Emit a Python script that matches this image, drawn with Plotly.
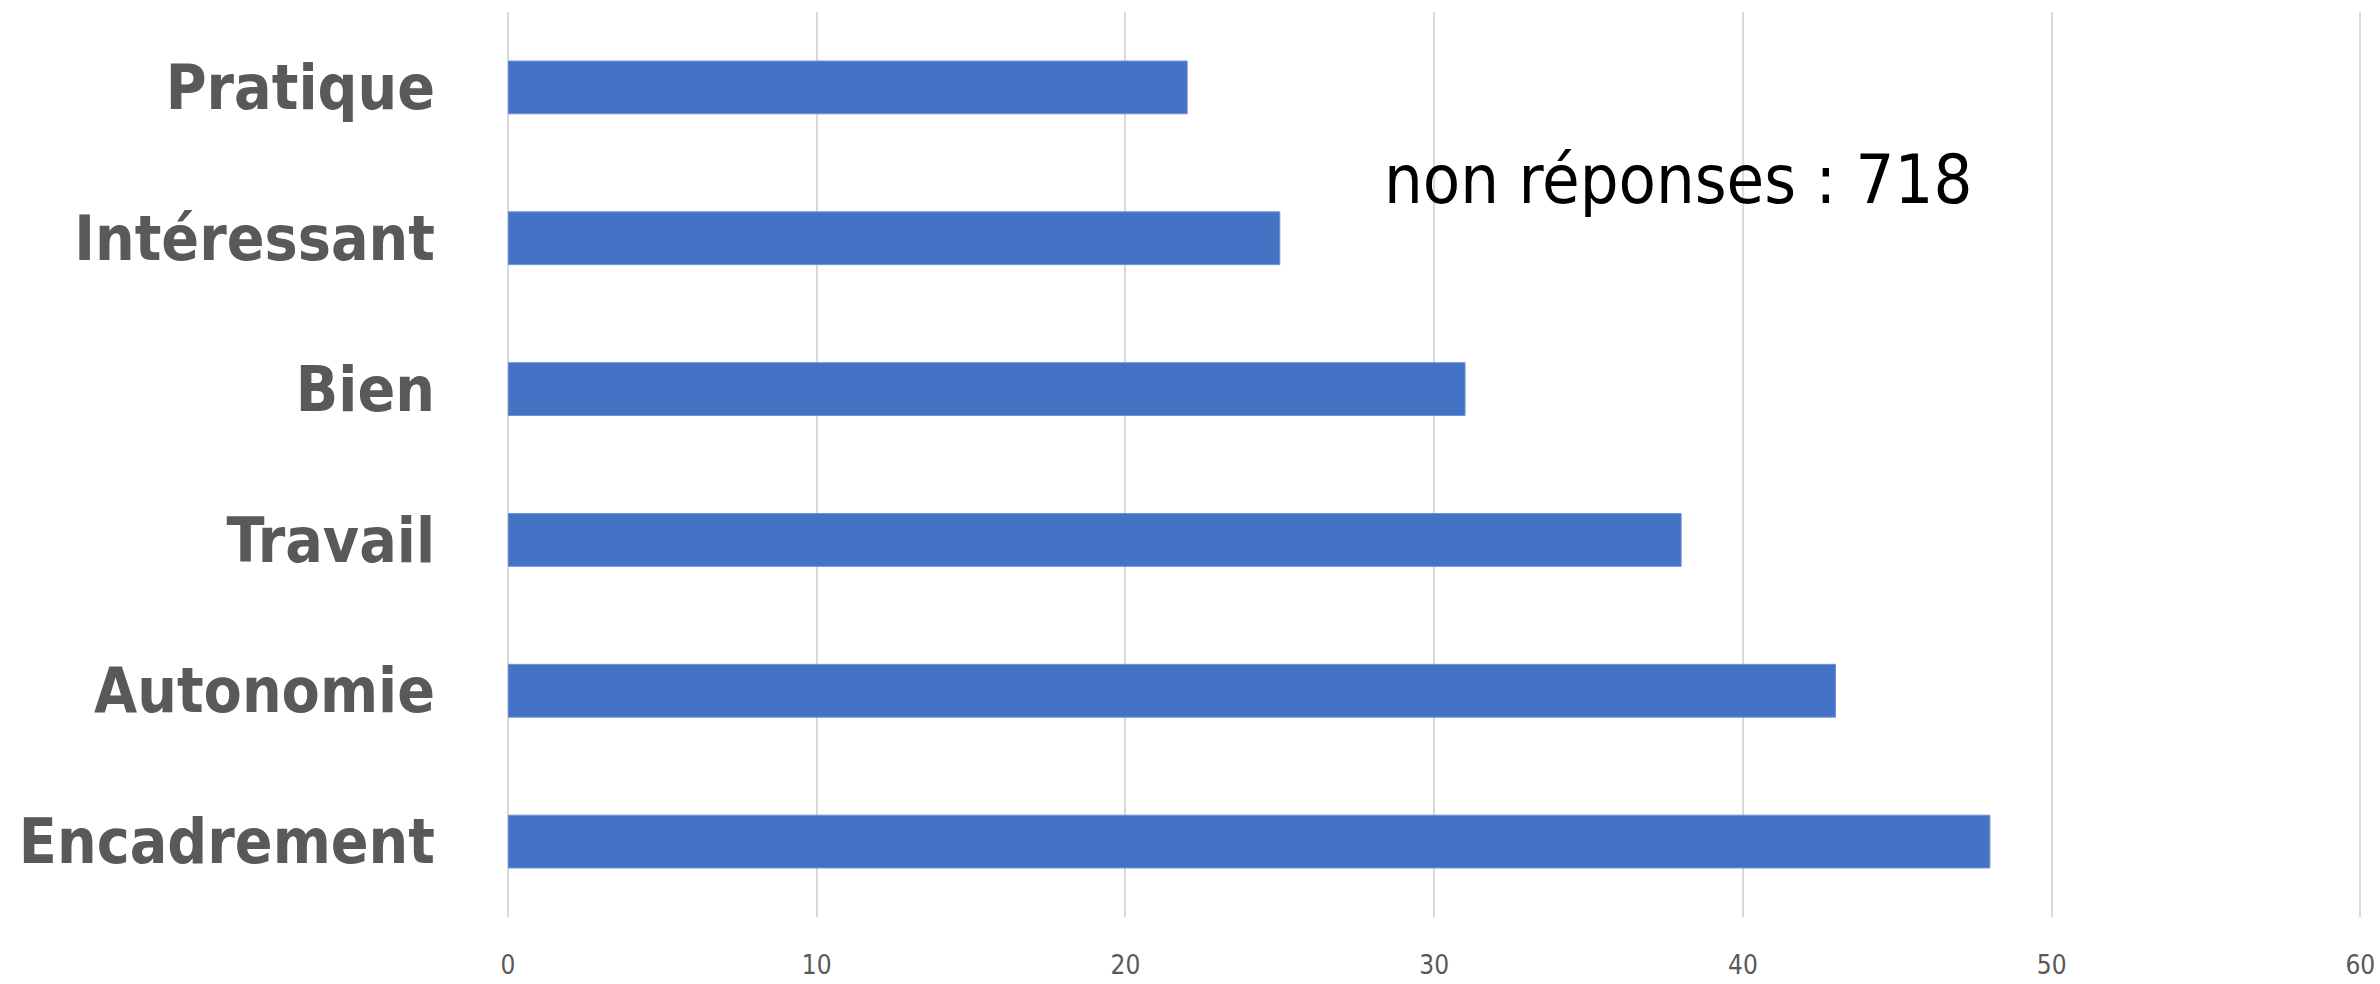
import plotly.graph_objects as go

categories = ["Pratique", "Intéressant", "Bien", "Travail", "Autonomie", "Encadrement"]
values = [22, 25, 31, 38, 43, 48]
x_ticks = [0, 10, 20, 30, 40, 50, 60]
note_text = "non réponses : 718"

FONT = "DejaVu Sans Condensed"

fig = go.Figure()
fig.add_trace(go.Bar(
    y=categories, x=values, orientation="h",
    marker=dict(color="#4472C4", line=dict(color="#6f93d6", width=1)),
    hoverinfo="skip",
))

fig.add_annotation(
    text=note_text, xref="paper", yref="paper", x=0.63, y=0.815,
    xanchor="center", yanchor="middle", showarrow=False,
    font=dict(family=FONT, size=68, color="#000000"),
)

fig.update_layout(
    width=2380, height=984,
    margin=dict(l=508, r=15, t=12, b=67),
    paper_bgcolor="white", plot_bgcolor="white",
    bargap=0.65, showlegend=False,
)
fig.update_xaxes(
    range=[0, 60.15], tickvals=x_ticks, ticktext=[str(t) for t in x_ticks],
    showgrid=True, gridcolor="#d9d9d9", gridwidth=2,
    zeroline=True, zerolinecolor="#d9d9d9", zerolinewidth=2,
    showline=False, ticks="", ticklabelstandoff=30, automargin=False,
    ticklabeloverflow="allow",
    tickfont=dict(family=FONT, size=26, color="#595959"),
)
fig.update_yaxes(
    autorange="reversed", categoryorder="array", categoryarray=categories,
    showgrid=False, zeroline=False, showline=False, ticks="",
    ticklabelstandoff=72, automargin=False,
    tickfont=dict(family=FONT, size=62, color="#595959", weight="bold"),
)

fig.write_html(
    "out.html",
    config={"displayModeBar": False},
    post_script="document.body.style.margin='0px';document.body.style.overflow='hidden';",
)
